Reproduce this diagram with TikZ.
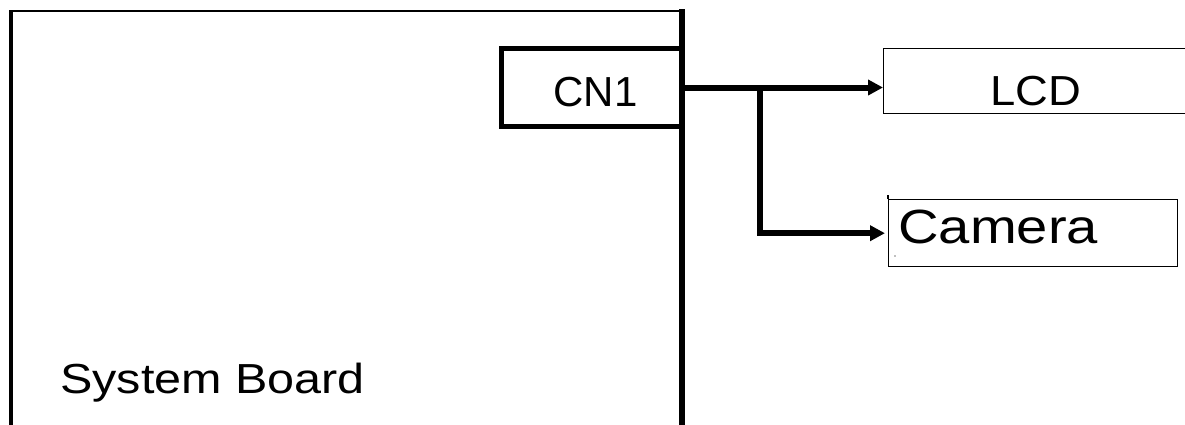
\documentclass[tikz,border=0pt]{standalone}
\usepackage{fontspec}
\setmainfont{Liberation Sans}
\usetikzlibrary{arrows.meta}
\begin{document}
\begin{tikzpicture}[x=1pt,y=-1pt,
  bigtext/.style={font=\fontsize{42}{50}\selectfont, inner sep=0pt, transform shape},
  thinbox/.style={draw, line width=1.4pt, inner sep=0pt},
  wire/.style={line width=6pt},
  arr/.style={wire, -{Triangle[length=15pt,width=15pt]}}]
\clip (0,0) rectangle (1185,424);
\fill[white] (0,0) rectangle (1185,424);
% system board (open at the bottom)
\draw[line width=2pt] (10,11) -- (682,11);
\draw[line width=4pt] (11,10) -- (11,430);
\draw[line width=6pt] (682,9) -- (682,430);
\node[bigtext, xscale=1.155, anchor=base west] (sbl) at (60,393) {System Board};
% connector CN1
\node[draw, line width=5pt, minimum width=180pt, minimum height=78pt, inner sep=0pt] (cn1) at (591.75,87.5) {};
\node[bigtext, anchor=base] (cn1l) at (595.5,106.5) {CN1};
% LCD
\node[thinbox, minimum width=330pt, minimum height=65pt, anchor=north west] (lcd) at (883,48) {};
\node[bigtext, xscale=1.08, anchor=base] (lcdl) at (1036,105) {LCD};
% Camera
\node[thinbox, minimum width=289pt, minimum height=67pt, anchor=north west] (cam) at (888,199) {};
\draw[line width=1.4pt] (cam.north west) -- ++(0,-4);
\fill[gray] (895,256) circle (0.8pt);
\node[font=\fontsize{48}{56}\selectfont, inner sep=0pt, transform shape, xscale=1.17, anchor=base west] (caml) at (898,243) {Camera};
% wires
\coordinate (br) at (760,87.5);
\draw[arr] (cn1.east) -- (cn1.east -| lcd.west);
\draw[arr, shorten >=3pt] (br) |- (cam.west);
\end{tikzpicture}
\end{document}
